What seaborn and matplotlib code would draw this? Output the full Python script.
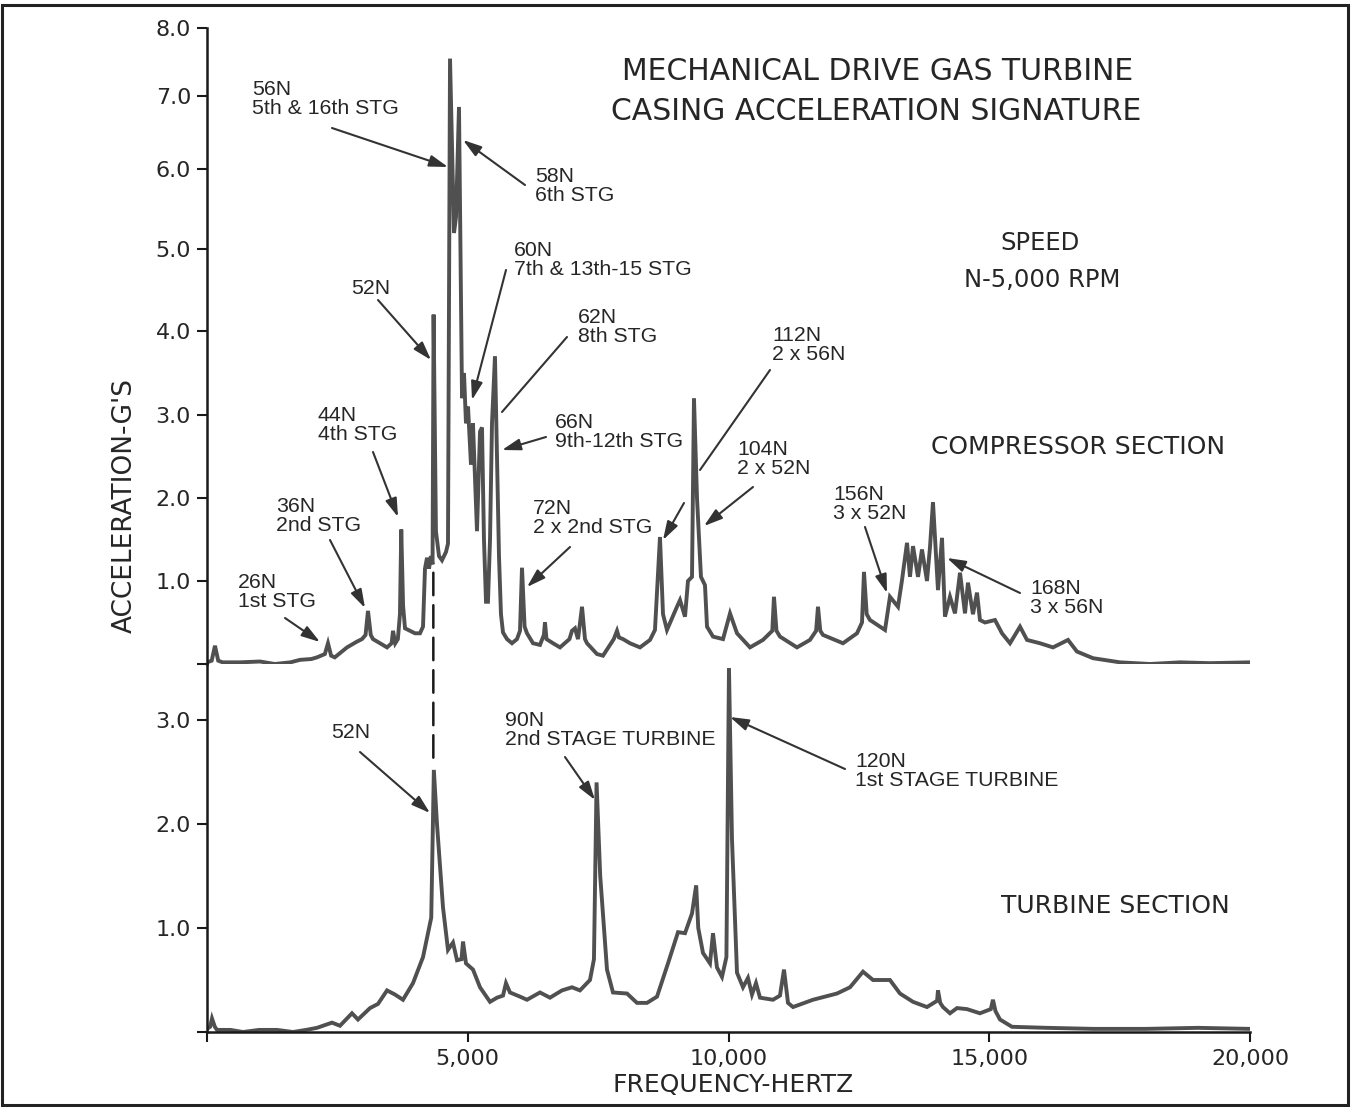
import numpy as np
import pandas as pd
import matplotlib
matplotlib.use("Agg")
import matplotlib.pyplot as plt
import seaborn as sns
from matplotlib.patches import ConnectionPatch, Rectangle, FancyArrowPatch

# ---------------- data ----------------
comp_freq = [0, 90, 153, 215, 300, 633, 1016, 1300, 1600, 1783, 2000, 2109, 2260, 2320, 2380, 2450,
             2685, 2876, 2972, 3040, 3087, 3140, 3183, 3317, 3452, 3540, 3567, 3610, 3660, 3700, 3725,
             3760, 3797, 3893, 3988, 4084, 4142, 4180, 4219, 4257, 4295, 4325, 4345, 4390, 4449, 4506,
             4583, 4621, 4660, 4736, 4775, 4832, 4871, 4890, 4928, 4966, 5005, 5062, 5100, 5177, 5235,
             5273, 5311, 5350, 5388, 5427, 5465, 5522, 5561, 5599, 5637, 5676, 5753, 5848, 5944, 6002,
             6040, 6090, 6136, 6251, 6385, 6460, 6481, 6510, 6635, 6769, 6950, 6999, 7056, 7114, 7191,
             7248, 7287, 7478, 7593, 7800, 7862, 7900, 7977, 8111, 8303, 8495, 8590, 8686, 8744, 8820,
             9012, 9070, 9166, 9223, 9300, 9338, 9396, 9472, 9549, 9588, 9703, 9895, 10029, 10163,
             10412, 10661, 10840, 10872, 10920, 10987, 11313, 11562, 11680, 11716, 11760, 11812, 12195,
             12464, 12560, 12598, 12650, 12713, 13001, 13096, 13250, 13327, 13423, 13480, 13538, 13634,
             13710, 13806, 13864, 13921, 14017, 14094, 14151, 14247, 14343, 14439, 14535, 14592, 14688,
             14765, 14822, 14918, 15110, 15244, 15398, 15590, 15724, 15973, 16222, 16510, 16682, 16989,
             17507, 18082, 18657, 19232, 20000]
comp_acc = [0.02, 0.04, 0.22, 0.04, 0.02, 0.02, 0.03, 0.0, 0.02, 0.05, 0.06, 0.08, 0.12, 0.25, 0.10, 0.08,
            0.20, 0.27, 0.30, 0.35, 0.64, 0.35, 0.30, 0.25, 0.20, 0.25, 0.40, 0.25, 0.30, 0.60, 1.62,
            0.70, 0.43, 0.40, 0.37, 0.37, 0.45, 1.15, 1.28, 1.15, 1.30, 1.20, 4.20, 1.60, 1.30, 1.25,
            1.35, 1.45, 7.55, 5.20, 5.40, 6.85, 4.30, 3.20, 3.50, 2.90, 3.10, 2.40, 2.90, 1.60, 2.80,
            2.85, 1.50, 0.75, 0.75, 1.50, 2.90, 3.70, 2.50, 1.30, 0.60, 0.38, 0.30, 0.25, 0.30, 0.40,
            1.16, 0.45, 0.37, 0.25, 0.23, 0.35, 0.50, 0.30, 0.25, 0.20, 0.30, 0.40, 0.43, 0.30, 0.69,
            0.30, 0.25, 0.12, 0.10, 0.30, 0.40, 0.32, 0.30, 0.25, 0.20, 0.29, 0.41, 1.53, 0.60, 0.41,
            0.69, 0.77, 0.57, 1.00, 1.05, 3.20, 2.00, 1.05, 0.95, 0.45, 0.33, 0.30, 0.61, 0.37,
            0.20, 0.29, 0.40, 0.81, 0.40, 0.33, 0.20, 0.29, 0.40, 0.69, 0.40, 0.35, 0.25,
            0.37, 0.50, 1.11, 0.60, 0.53, 0.41, 0.81, 0.69, 1.01, 1.46, 1.05, 1.42, 1.05,
            1.38, 1.00, 1.41, 1.95, 0.89, 1.52, 0.57, 0.81, 0.61, 1.10, 0.61, 0.98, 0.60,
            0.86, 0.53, 0.50, 0.53, 0.37, 0.25, 0.45, 0.29, 0.25, 0.20, 0.29, 0.15, 0.07,
            0.02, 0.0, 0.02, 0.01, 0.02]

turb_freq = [0, 60, 96, 150, 192, 450, 690, 1000, 1342, 1649, 1900, 2109, 2397, 2550, 2780, 2895, 3126,
             3279, 3452, 3605, 3758, 3950, 4142, 4300, 4350, 4410, 4525, 4621, 4717, 4794, 4880, 4909,
             4966, 5101, 5235, 5427, 5561, 5676, 5733, 5810, 6002, 6136, 6385, 6577, 6807, 6999, 7152,
             7344, 7420, 7470, 7540, 7670, 7785, 8054, 8245, 8437, 8629, 8840, 9032, 9166, 9300, 9380,
             9420, 9511, 9645, 9703, 9779, 9875, 9960, 10009, 10067, 10163, 10278, 10373, 10450, 10527,
             10604, 10853, 10987, 11064, 11141, 11237, 11620, 12080, 12330, 12579, 12771, 13096, 13288,
             13538, 13806, 14000, 14017, 14060, 14113, 14247, 14382, 14573, 14822, 15030, 15071, 15120,
             15206, 15436, 16107, 17000, 18000, 19000, 20000]
turb_acc = [0.03, 0.05, 0.13, 0.05, 0.02, 0.02, 0.0, 0.02, 0.02, 0.0, 0.02, 0.04, 0.09, 0.06, 0.18, 0.12, 0.23,
            0.27, 0.40, 0.36, 0.31, 0.47, 0.72, 1.10, 2.52, 2.00, 1.20, 0.79, 0.86, 0.69, 0.70, 0.87,
            0.66, 0.60, 0.43, 0.29, 0.33, 0.35, 0.47, 0.38, 0.34, 0.31, 0.38, 0.33, 0.40, 0.43, 0.40,
            0.50, 0.70, 2.40, 1.50, 0.60, 0.38, 0.37, 0.28, 0.28, 0.34, 0.66, 0.96, 0.95, 1.14, 1.41,
            1.00, 0.76, 0.66, 0.95, 0.62, 0.53, 0.72, 3.50, 1.85, 0.57, 0.43, 0.52, 0.36, 0.47,
            0.33, 0.31, 0.35, 0.60, 0.28, 0.24, 0.31, 0.37, 0.43, 0.58, 0.50, 0.50, 0.37,
            0.29, 0.24, 0.30, 0.40, 0.28, 0.24, 0.18, 0.23, 0.22, 0.18, 0.22, 0.31, 0.20,
            0.12, 0.05, 0.04, 0.03, 0.03, 0.04, 0.03]

top_tick_vals = [0, 1, 2, 3, 4, 5, 6, 7, 8]
top_tick_labels = ["", "1.0", "2.0", "3.0", "4.0", "5.0", "6.0", "7.0", "8.0"]
bot_tick_vals = [0, 1, 2, 3]
bot_tick_labels = ["", "1.0", "2.0", "3.0"]
x_tick_vals = [0, 5000, 10000, 15000, 20000]
x_tick_labels = ["", "5,000", "10,000", "15,000", "20,000"]

# ---------------- style ----------------
W, H = 1351, 1107
sns.set_theme(style="white")
plt.rcParams["font.family"] = ["DejaVu Sans"]
TXT = "#262626"
LINE = "#505050"
CAPS = dict(family="DejaVu Sans", color=TXT)
ANN = dict(family="Liberation Sans", color=TXT, fontsize=15.3, linespacing=1.0)

fig = plt.figure(figsize=(W / 100, H / 100), dpi=100)
fig.patch.set_facecolor("white")

def fx(x):
    return x / W

def fy(y):
    return 1 - y / H

ax_top = fig.add_axes([fx(207), fy(664), (1250 - 207) / W, (664 - 28) / H])
ax_bot = fig.add_axes([fx(207), fy(1032), (1250 - 207) / W, (1032 - 664) / H])

# upper scale calibrated to the printed tick spacing
_cal = np.array([-664, -581, -498, -415, -331, -249, -169, -96, -28], float)
_vals = np.array(top_tick_vals, float)

def _fwd(v):
    v = np.asarray(v, float)
    out = np.interp(v, _vals, _cal)
    out = np.where(v < 0, _cal[0] + v * 83.0, out)
    out = np.where(v > 8, _cal[-1] + (v - 8) * 68.0, out)
    return out

def _inv(t):
    t = np.asarray(t, float)
    out = np.interp(t, _cal, _vals)
    out = np.where(t < _cal[0], (t - _cal[0]) / 83.0, out)
    out = np.where(t > _cal[-1], 8 + (t - _cal[-1]) / 68.0, out)
    return out

ax_top.set_yscale("function", functions=(_fwd, _inv))

df_c = pd.DataFrame({"freq": comp_freq, "acc": comp_acc})
df_t = pd.DataFrame({"freq": turb_freq, "acc": turb_acc})
sns.lineplot(data=df_c, x="freq", y="acc", ax=ax_top, color=LINE, lw=2.8,
             estimator=None, sort=False, solid_joinstyle="miter")
sns.lineplot(data=df_t, x="freq", y="acc", ax=ax_bot, color=LINE, lw=2.8,
             estimator=None, sort=False, solid_joinstyle="miter")

for ax in (ax_top, ax_bot):
    ax.set_facecolor("none")
    ax.set_xlim(0, 20000)
    ax.set_xlabel("")
    ax.set_ylabel("")
    for s in ("top", "right"):
        ax.spines[s].set_visible(False)
    ax.spines["left"].set_color("#1a1a1a")
    ax.spines["left"].set_linewidth(1.8)
    ax.tick_params(axis="y", direction="out", length=7.5, width=1.5, pad=4,
                   labelsize=16, colors="#1a1a1a", labelcolor=TXT, left=True)
    ax.grid(False)

ax_top.spines["bottom"].set_visible(False)
ax_top.set_ylim(0, 8)
ax_top.set_yticks(top_tick_vals)
ax_top.set_yticklabels(top_tick_labels)
ax_top.set_xticks([])

ax_bot.set_ylim(0, (1032 - 664) / 104)
ax_bot.set_yticks(bot_tick_vals)
ax_bot.set_yticklabels(bot_tick_labels)
ax_bot.spines["bottom"].set_color("#1a1a1a")
ax_bot.spines["bottom"].set_linewidth(1.8)
ax_bot.set_xticks(x_tick_vals)
ax_bot.set_xticklabels(x_tick_labels)
ax_bot.tick_params(axis="x", direction="out", length=7.5, width=1.5, pad=5,
                   labelsize=16, colors="#1a1a1a", labelcolor=TXT, bottom=True)

# dashed 52N link between the two traces
con = ConnectionPatch(xyA=(4340, 1.1), coordsA="data", axesA=ax_top,
                      xyB=(4340, 2.57), coordsB="data", axesB=ax_bot,
                      color="#1a1a1a", lw=1.8, linestyle=(0, (9, 4)))
fig.add_artist(con)

# ---------------- texts ----------------
def ftext(x, y, s, **kw):
    fig.text(fx(x), fy(y), s, **kw)

ftext(878, 72, "MECHANICAL DRIVE GAS TURBINE", ha="center", va="center", fontsize=21.5, **CAPS)
ftext(876, 112, "CASING ACCELERATION SIGNATURE", ha="center", va="center", fontsize=21.5, **CAPS)
ftext(1040, 243, "SPEED", ha="center", va="center", fontsize=17.5, **CAPS)
ftext(1042, 280, "N-5,000 RPM", ha="center", va="center", fontsize=17.5, **CAPS)
ftext(1078, 447, "COMPRESSOR SECTION", ha="center", va="center", fontsize=18, **CAPS)
ftext(1115, 906, "TURBINE SECTION", ha="center", va="center", fontsize=18, **CAPS)
ftext(733, 1085, "FREQUENCY-HERTZ", ha="center", va="center", fontsize=18, **CAPS)
ftext(125, 505, "ACCELERATION-G'S", ha="center", va="center", rotation=90, fontsize=19, **CAPS)

labels = [
    (252, 99, "56N\n5th & 16th STG"),
    (535, 186, "58N\n6th STG"),
    (514, 260, "60N\n7th & 13th-15 STG"),
    (351, 288, "52N"),
    (578, 327, "62N\n8th STG"),
    (772, 345, "112N\n2 x 56N"),
    (318, 425, "44N\n4th STG"),
    (555, 432, "66N\n9th-12th STG"),
    (737, 459, "104N\n2 x 52N"),
    (276, 516, "36N\n2nd STG"),
    (533, 518, "72N\n2 x 2nd STG"),
    (833, 504, "156N\n3 x 52N"),
    (238, 592, "26N\n1st STG"),
    (1030, 598, "168N\n3 x 56N"),
    (331, 733, "52N"),
    (505, 730, "90N\n2nd STAGE TURBINE"),
    (855, 771, "120N\n1st STAGE TURBINE"),
]
for x, y, s in labels:
    ftext(x, y, s, ha="left", va="center", **ANN)

arrows = [
    ((332, 128), (448, 167), True),
    ((525, 185), (463, 140), True),
    ((506, 270), (472, 400), True),
    ((378, 300), (431, 360), True),
    ((567, 337), (502, 412), False),
    ((770, 370), (700, 470), False),
    ((373, 452), (398, 517), True),
    ((546, 437), (502, 450), True),
    ((753, 487), (704, 526), True),
    ((684, 503), (663, 540), True),
    ((330, 540), (365, 608), True),
    ((570, 547), (527, 587), True),
    ((865, 527), (887, 593), True),
    ((285, 618), (320, 642), True),
    ((1020, 593), (947, 558), True),
    ((360, 752), (430, 813), True),
    ((565, 757), (595, 800), True),
    ((845, 769), (730, 717), True),
]
for (tx, ty), (hx, hy), head in arrows:
    style = "-|>,head_length=0.8,head_width=0.25" if head else "-"
    fig.add_artist(FancyArrowPatch((fx(tx), fy(ty)), (fx(hx), fy(hy)),
                                   transform=fig.transFigure, arrowstyle=style,
                                   mutation_scale=14, lw=1.5, color="#333333",
                                   shrinkA=0, shrinkB=0))

# page frame
fig.add_artist(Rectangle((fx(2), fy(1105)), 1346 / W, 1100 / H, transform=fig.transFigure,
                         fill=False, lw=2.2, ec="#222222"))

fig.savefig("out.png", dpi=100, facecolor="white")
